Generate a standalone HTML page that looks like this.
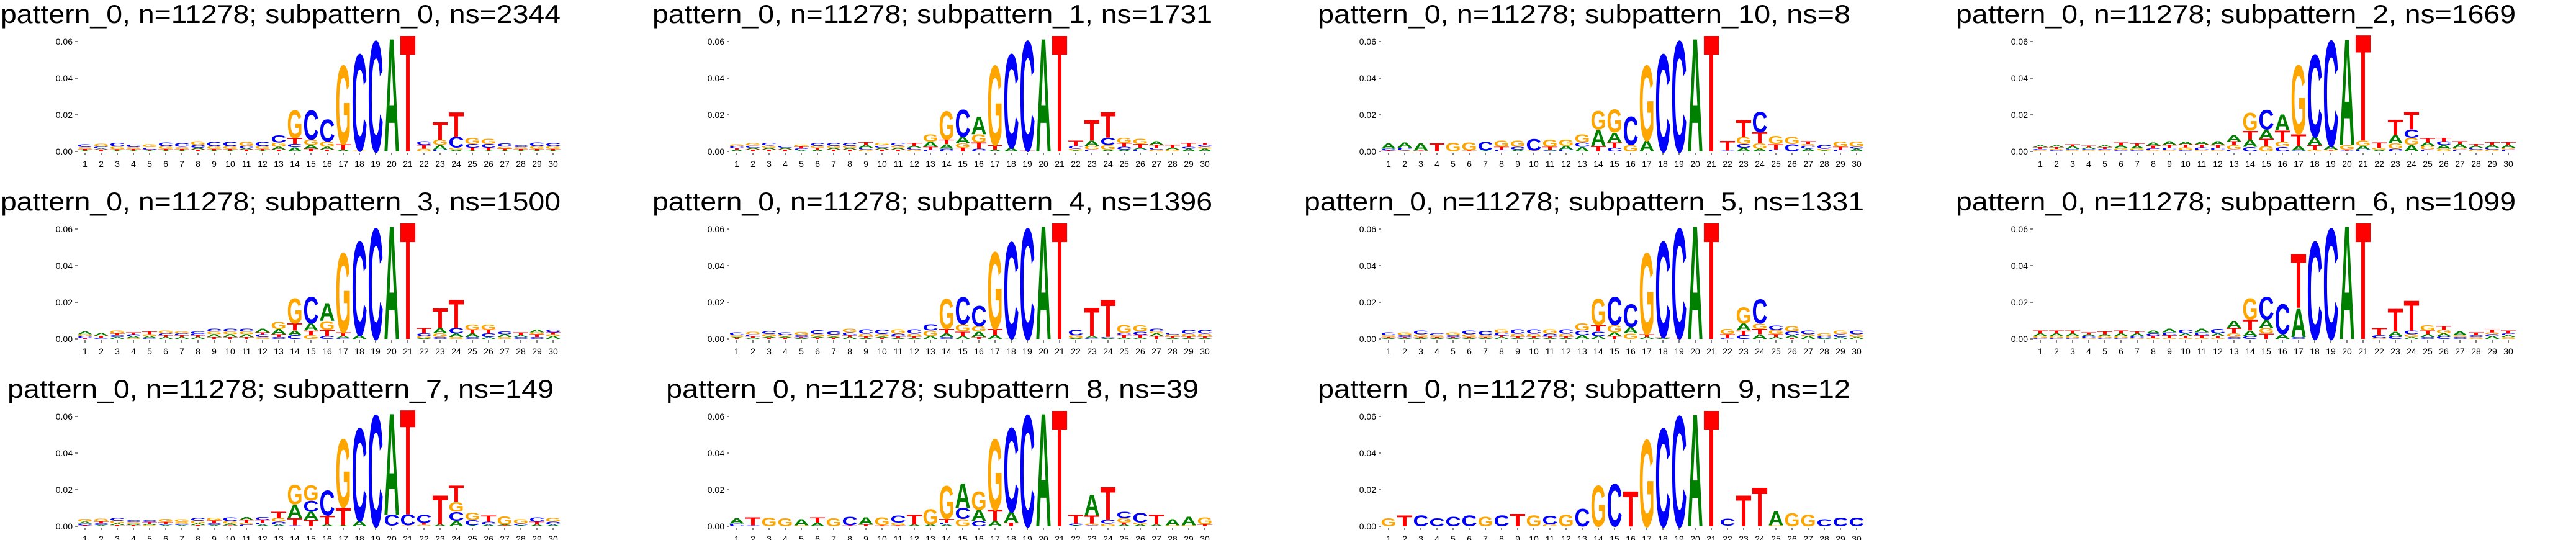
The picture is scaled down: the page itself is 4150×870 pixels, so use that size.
<!DOCTYPE html>
<html><head><meta charset="utf-8"><style>
html,body{margin:0;padding:0;background:#fff;}
svg{display:block;}
</style></head><body>
<svg id="fig" xmlns="http://www.w3.org/2000/svg" width="4150" height="870" viewBox="0 0 4150 870"></svg>
<script>
// categories
const positions = [1,2,3,4,5,6,7,8,9,10,11,12,13,14,15,16,17,18,19,20,21,22,23,24,25,26,27,28,29,30];
const yTicks = [0, 0.02, 0.04, 0.06];
const yTickLabels = ["0.00","0.02","0.04","0.06"];
const subpatternIds = [0,1,10,2,3,4,5,6,7,8,9];
const subpatternNs = [2344,1731,8,1669,1500,1396,1331,1099,149,39,12];
// letter stacks per position (bottom to top), heights in units of 0.001
const sp0 = "A.5T.8G1C1.5 T1A.7C1G1.5 A.5T.7G1.5C2 A.5T.8G1C1.3 A.5T.6C1.2G1.5 A.5T.8G1.5C2 A.5T.8G1.2C2 T1A1C1.5G2 A.5T.8G1.5C2.5 A.5T.8G1.5C2.5 T1A.8C1G2.5 A.5T.8G1.5C2.5 T1A1.5G2.5C4 A2.3C1.7T3.3G15.7 T1.5A2G3C16.5 T1A1.5G3C12.5 A1T3G44.5 G.5C54.5 C62.5 A64 T66 G1.5T2C2 C1A2.5G3T10 A1G1C6T14 A.5T1.5C2G3.5 A.5T1.5C2G3 A.5T1G1.2C1.8 A.5T.8G1C1.2 A.5T.8G1.5C2 A.5T.8G1.5C1.8";
const sp1 = "A1T.8C1G1 T1A1C1G1.5 T1A1G1.2C1.5 T1A1C1 A.7C1T1G1.2 A1T1G1C1.5 T1A1G1C1.5 T1A1G1C1.5 G1C1A1.5T1.5 T1A1C1.2G1.5 T1A1.2G1C1.5 G1C1A1T1.5 C1T1.5A3G4 C1.5A2.5T2.5G16 T2G2.5A3.5C15.5 C1.5T3.5G4.5A10 A1T2.5G45 A2C53 T.5C62 A64 T66 A.5G1C1.5T3 C1G2A3T11.5 A1G2.5C4T14.5 A1C1.5T2G3 C1A1T2G3 G1C1T1.5A2 G1A1T1.5 A1.5C1T2 A1.5G1C1T1";
const sp10 = "T.5C1A3 G.5C1.5A3 T.5A4 T4.5 G5 T.5G4.5 A.5C5 C1T1.5G3.5 A1C1.5G3.5 G.5C6.5 C.5A.5T1.5G4 C1A2G3.5 A2.5C2.5G4.5 T3A9G10.5 C2T3A5.5G13 G3.5C16 A6G42.5 C55 C62.5 A64 T66 C.5T5.5 A2C2G4T9.5 A1.5G3T6C11.5 C1T3G4.5 C4G4 A1.5C1.5G1T1.5 A.5G1C2 C1T1.5G3 A1.5C1G3";
const sp2 = "G.7C.7T1A1 C.7G.7T1A1 G.7C.7A1.5T1 G.7C.7A1T.8 G.7C.7T1A1.2 C.7G1.2A1.5T1.5 C.7G1A1.3T1.3 G.7C1T1.5A1.8 G.7C1.3T1.5A2 C.7G1.5T1.5A1.8 G.7C1.5T1.5A1.8 G.7C1.3T1.5A2 C1G2.5T2A3.5 C2.5A4T5G10 G3T4A5C11 C2.5G3T6A9 C.5A2.5T6.5G39 G1T2.5A4.5C46.5 G.5T.5A2C59.5 C.5T.5G2.5A60 C1A2G3T60 A1G1T3 C1.5G3A4.5T8.5 A3.5G4C4.5T10 C1G2A2T2.5 G1.5A2C2T2 C1G1A2T1.5 G1C1A1T1 G1C1A1.5T1.5 C1G1A1.5T1.5";
const sp3 = "T.5C1G1A1.5 C.7T1A1.5 A1C1T1G1.5 G.5A1C1T1 C.5A1G1T1.5 A1T1C1G1.5 A1T1C1G1 A1T1C1C1 T1A1.5G1.5C1.5 T1A1.5G1.5C1.5 T1A1.5G1.5C1.5 G1C1.5T1A2 C1T1.5A3G4 C2A2.5T4G14 G2T2.5A4C15 C1.5T3.5G5A10 C.5A1T2G45 A2C53 C62.5 A64 T66 A.5G1C1.5T3 C1G2A3T11 G1A2C3T16 C1A2T2G3 A1C2T2G3 G1A1.5C1.5 C1A1T1.5 C1T1.5G1A1.5 A1.5G1T1C1.5";
const sp4 = "T.5A.5G1C1.5 A.7T.7C1G1.5 T.7A.5G1.5C1.5 T.7A.5G1C1.3 A.5T.5C1.2G1.5 T.7A.5G1.5C2 T.7A.5G1.2C1.8 A1T1C1.5G2 A.5T.8G1.5C2.5 T.7A.5G1.5C2.5 A.5T.8C1.5G2.5 A.5T.8G1.5C2.5 A1.5G3C3.5 C1A2T2.5G17 A1.5T2.5G4C15.5 T1A3G3C11.5 A2T3.5G43.5 A.3C54.5 C62.5 A64 T66 A.5G1.5C3 C.5A1T16 A.5C.5T21 A.7T1.5C1G4.5 A.7T1.5C1.8G3.5 T1.5A1.5G1C1.5 A.5T.8G1C1.2 A.5T.8G1.5C2 A.5T.8G1.5C2";
const sp5 = "A.5T.5G1C1.5 A.5T.5C1G1.5 A.5T.5G1.5C2 A.5T.5G1C1.2 A.5T.5C1G1.5 A.5T.5G1.5C2 A.5T.5G1.2C2 A1T.8C1.5G2 A.5T.8G1.5C2.5 A.5T.8G1.5C2.5 A.5T.8C1.5G2.5 A.5T.8G1.5C2.5 A2C2.5G4 A1.5C2.5T3.5G15 T1.5A2G4C16 G3A3.5C13 A1T1.5G46 A.5T.5C54 T.5C62 A64 T66 C.5T2G3 C2T2.5A4G9 A2.5T3G3C13.5 A1T1.5G2.5C2.5 T.5A1.5C2G3 A1.5G1C2 A.5C1G1.5 A1C1.5G2 A1G1.5C2";
const sp6 = "C.5G1A1.5T1.5 C.5G1A1.5T1.5 C.5G1A1.5T1.5 G.5C1A1T1.2 C.5G1A1T1.5 C.5G1A1.5T1.5 G.5C1A1.5T1.2 G.5T1C1.5A1.5 G.5T1.5C1.5A2 G.5T1A1.5C2 G.5T1.5C1.5A2 G.5T1A1.5C2.5 C1G2T3A4 C1.5A3T6G12 T3G3A4.5C13 A2.5C17 C1A16T30.5 C55 C62.5 A64 T66 G.5C1.5T4 C1.5A2.5T13 A1G1.5C2T17 C1A1.5T2G3 C1.5A1.5G2T2 C1G1A2 G1C1T1.5 A1.5C1G1T1.5 G1A1C1T1.5";
const sp7 = "T.5C1A1G1.5 A.7C1T1G1.5 T.7A1G1.3C1.5 T.7A.7G1C1 G.7A.7T1C1.2 A.7C.7T1G1.8 A.7C.7G1G1.5 T.7A1G1.3C1.5 A.7C1T1.5G1.5 T.5A1G1.3C2 C1G1T1.5A1.5 A1C1T1.5C1.5 A1C1.5G2T3.5 C.5T4A7.5G11 T3.5A4.5C6G8.5 A1T5C14 A.5T10G38.5 A3C52.5 C63 G.3C6A57.5 G.5C6T59.5 A.3G.5T1C4.5 A1T16.5 A3C5G5.5T9 A.5C3G4 A1C1.5T3.5 T.5A.5G4.5 A.5C1G2.5 A1T1.5C2.5 A1C1.5G2";
const sp8 = "C1.5A3 C.5T4.5 G5 G4.5 G.5A3.5 A2T3 G4.5 T.5C5 T1A4 T.5G4.5 T.5G1.5C4 A1T5.5 A1G8.7 A1C1T2G18.5 G4C6A14 C3A6G10.5 A3T6G40 T2A6C47.5 C63 A64 T66 A.5C1T5 C.5G1T4.5A11.7 G1.5C2T18.5 A1T1G2.5C3.5 A1G1C5.5 A1T5.5 G.5A3.5 G.5A5 T1G4";
const sp9 = "G4.5 T6 C6 C4.5 C5.5 C6 G5.5 C6 T7 G6 G1C5 G6.5 C10 G23 C24 T20 G49 C55.5 C62.5 A63.5 T66 A.3C4 T17.5 T22 G.5A8 G7.5 G6.5 C4 C5 C5";
const stacks = [sp0, sp1, sp10, sp2, sp3, sp4, sp5, sp6, sp7, sp8, sp9];

const NS = "http://www.w3.org/2000/svg";
const svg = document.getElementById('fig');
const COLORS = {A:'#008000', C:'#0000ff', G:'#ffa500', T:'#ff0000'};
const COLW = 1050, ROWH = 302;
const X0 = 137, DX = 26, Y0 = 244, PXPER = 2.95; // px per 0.001
function xPos(p){ return X0 + (p-1)*DX; }
function yPos(v){ return Y0 - v*1000*PXPER; }
function mk(tag, attrs, parent){ const e=document.createElementNS(NS,tag); for(const k in attrs) e.setAttribute(k, attrs[k]); parent.appendChild(e); return e; }

subpatternIds.forEach((sid, i) => {
  const col = i % 4, row = Math.floor(i/4);
  const g = mk('g', {transform:`translate(${col*COLW},${row*ROWH})`}, svg);
  
  
  const title = `pattern_0, n=11278; subpattern_${sid}, ns=${subpatternNs[i]}`;
  const t = mk('text', {x:452, y:37, 'text-anchor':'middle', 'font-family':'Liberation Sans, sans-serif', 'font-size':42, textLength: title.length*22, lengthAdjust:'spacingAndGlyphs', fill:'#000'}, g);
  t.textContent = title;
  
  
  // y axis ticks
  yTicks.forEach((v, k) => {
    const y = yPos(v);
    mk('line', {x1:121, x2:125, y1:y, y2:y, stroke:'#000', 'stroke-width':1}, g);
    const tl = mk('text', {x:117, y:y+5, 'text-anchor':'end', 'font-family':'Liberation Sans, sans-serif', 'font-size':14, fill:'#000'}, g);
    tl.textContent = yTickLabels[k];
    
    
  });
  // x ticks
  positions.forEach(p => {
    const x = xPos(p);
    mk('line', {x1:x, x2:x, y1:Y0+2, y2:Y0+6, stroke:'#000', 'stroke-width':1}, g);
    const xl = mk('text', {x:x, y:Y0+25, 'text-anchor':'middle', 'font-family':'Liberation Sans, sans-serif', 'font-size':14, fill:'#000'}, g);
    xl.textContent = String(p);
    
    
  });
  // letters
  const toks = stacks[i].trim().split(/\s+/);
  toks.forEach((tok, pi) => {
    const p = positions[pi];
    let base = 0;
    const re = /([ACGT])([\d.]+)/g; let m;
    while ((m = re.exec(tok))) {
      const L = m[1], h = parseFloat(m[2]) / 1000;
      const yb = yPos(base), yt = yPos(base + h);
      const hp = yb - yt;
      const x = xPos(p) - 12.5;
      const lt = mk('text', {x:0, y:0, 'font-family':'Liberation Sans, sans-serif', 'font-weight':'bold', 'font-size':100, textLength:100, lengthAdjust:'spacingAndGlyphs', fill:COLORS[L], transform:`translate(${x},${yb}) scale(0.25,${hp/72})`}, g);
      lt.textContent = L;
      
      
      base += h;
    }
  });
});
</script>
</body></html>
